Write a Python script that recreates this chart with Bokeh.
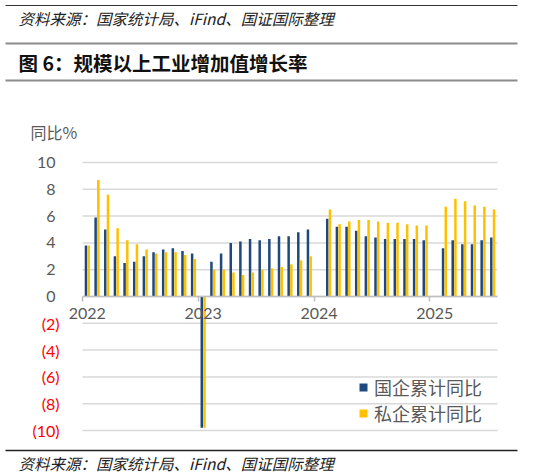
from bokeh.plotting import figure
from bokeh.models import (ColumnDataSource, Range1d, LinearAxis, FixedTicker,
                          Legend, LegendItem)
from bokeh.transform import dodge
from bokeh.core.properties import value
from bokeh.embed import file_html
from bokeh.resources import INLINE

# ---------------- data ----------------
months = [
    "2022-01", "2022-02", "2022-03", "2022-04", "2022-05", "2022-06",
    "2022-07", "2022-08", "2022-09", "2022-10", "2022-11", "2022-12",
    "2023-01", "2023-02", "2023-03", "2023-04", "2023-05", "2023-06",
    "2023-07", "2023-08", "2023-09", "2023-10", "2023-11", "2023-12",
    "2024-02", "2024-03", "2024-04", "2024-05", "2024-06",
    "2024-07", "2024-08", "2024-09", "2024-10", "2024-11", "2024-12",
    "2025-02", "2025-03", "2025-04", "2025-05", "2025-06", "2025-07",
]
soe_yoy = [  # 国企累计同比
    3.8, 5.9, 5.0, 3.0, 2.5, 2.6, 3.0, 3.3, 3.5, 3.6, 3.4, 3.2,
    -9.8, 2.6, 3.2, 4.0, 4.1, 4.3, 4.2, 4.3, 4.5, 4.5, 4.8, 5.0,
    5.8, 5.2, 5.2, 4.9, 4.5, 4.4, 4.3, 4.3, 4.3, 4.3, 4.2,
    3.6, 4.2, 3.9, 3.9, 4.2, 4.4,
]
poe_yoy = [  # 私企累计同比
    3.8, 8.7, 7.6, 5.1, 4.2, 3.9, 3.5, 3.2, 3.3, 3.3, 3.1, 2.8,
    -9.8, 2.0, 2.0, 1.8, 1.6, 1.8, 2.0, 2.1, 2.2, 2.4, 2.7, 3.0,
    6.5, 5.4, 5.6, 5.7, 5.7, 5.6, 5.5, 5.5, 5.4, 5.3, 5.3,
    6.7, 7.3, 7.1, 6.8, 6.7, 6.5,
]
year_labels = ["2022", "2023", "2024", "2025"]
y_ticks = [-10, -8, -6, -4, -2, 0, 2, 4, 6, 8, 10]
series_names = ["国企累计同比", "私企累计同比"]

header_source = "资料来源：国家统计局、iFind、国证国际整理"
title_text = "图 6：规模以上工业增加值增长率"
y_unit_text = "同比%"

# ---------------- style / layout ----------------
BLUE = "#1F497D"
GOLD = "#FFC000"
GRAY_TXT = "#595959"
GRID = "#D9D9D9"
CJK_NAME = "Noto Sans CJK SC"
CJK = value(CJK_NAME)
NUM = "Lato"

W, H = 533, 474                  # canvas size (page has no body margin)
FRAME_L, FRAME_R = 82, 497       # px of the plotting area
Y0_PX, Y10_PX = 296, 162         # px of value 0 and value 10

base_year = int(year_labels[0])
idx = [(int(m[:4]) - base_year) * 12 + int(m[5:]) - 1 for m in months]
year_pos = [(int(y) - base_year) * 12 for y in year_labels]
n_cat = max(idx) + 1
ppm = (FRAME_R - FRAME_L) / n_cat
ppu = (Y0_PX - Y10_PX) / 10.0
x_lo, x_hi = -0.5, n_cat - 0.5
x_start = x_lo - FRAME_L / ppm
x_end = x_hi + (W - FRAME_R) / ppm
y_end = Y0_PX / ppu
y_start = -(H - Y0_PX) / ppu

p = figure(width=W, height=H, x_range=Range1d(x_start, x_end),
           y_range=Range1d(y_start, y_end),
           toolbar_location=None, output_backend="svg", min_border=0,
           x_axis_location=None, y_axis_location=None, outline_line_color=None)
p.xgrid.visible = False
p.ygrid.visible = False
p.extra_x_ranges = {"px": Range1d(0, W)}
p.extra_y_ranges = {"py": Range1d(H, 0)}
PX = dict(x_range_name="px", y_range_name="py")

# gridlines (horizontal, limited to the plotting area)
p.segment(x0=[x_lo] * len(y_ticks), x1=[x_hi] * len(y_ticks), y0=y_ticks, y1=y_ticks,
          line_color=GRID, line_width=1.5)

# bars
src = ColumnDataSource(dict(x=idx, soe=soe_yoy, poe=poe_yoy))
r_soe = p.vbar(x=dodge("x", -0.14, range=p.x_range), top="soe", width=0.26,
               source=src, fill_color=BLUE, line_color=None)
r_poe = p.vbar(x=dodge("x", 0.14, range=p.x_range), top="poe", width=0.26,
               source=src, fill_color=GOLD, line_color=None)

# y axes (positive grey, negative red in brackets)
pos_ticks = [t for t in y_ticks if t >= 0]
neg_ticks = [t for t in y_ticks if t < 0]
ax_pos = LinearAxis(ticker=FixedTicker(ticks=pos_ticks), fixed_location=x_lo,
                    major_label_overrides={t: str(t) for t in pos_ticks},
                    axis_line_color=None, major_tick_line_color=None, minor_tick_line_color=None,
                    major_label_standoff=21, major_label_text_font=NUM,
                    major_label_text_font_size="16px", major_label_text_color=GRAY_TXT)
ax_neg = LinearAxis(ticker=FixedTicker(ticks=neg_ticks), fixed_location=x_lo,
                    major_label_overrides={t: "(%d)" % abs(t) for t in neg_ticks},
                    axis_line_color=None, major_tick_line_color=None, minor_tick_line_color=None,
                    major_label_standoff=17, major_label_text_font=NUM,
                    major_label_text_font_size="16px", major_label_text_color="#FF0000")
p.add_layout(ax_pos, "left")
p.add_layout(ax_neg, "left")

# x axis at zero: boundary ticks + year labels
bound_ticks = [v - 0.5 for v in year_pos]
ax_x = LinearAxis(ticker=FixedTicker(ticks=bound_ticks), fixed_location=0,
                  bounds=(x_lo, x_hi),
                  major_label_overrides={t: "" for t in bound_ticks},
                  axis_line_color="#BFBFBF", axis_line_width=1.5,
                  major_tick_line_color="#BFBFBF", major_tick_line_width=1.5,
                  major_tick_in=0, major_tick_out=5, minor_tick_line_color=None)
ax_xl = LinearAxis(ticker=FixedTicker(ticks=year_pos), fixed_location=0,
                   major_label_overrides=dict(zip(year_pos, year_labels)),
                   axis_line_color=None, major_tick_line_color=None, minor_tick_line_color=None,
                   major_tick_in=0, major_tick_out=5, major_label_standoff=6,
                   major_label_text_font=NUM, major_label_text_font_size="16px",
                   major_label_text_color=GRAY_TXT)
p.add_layout(ax_x, "below")
p.add_layout(ax_xl, "below")

# legend
legend = Legend(items=[LegendItem(label=series_names[0], renderers=[r_soe]),
                       LegendItem(label=series_names[1], renderers=[r_poe])],
                location=(358, H - 426), orientation="vertical",
                glyph_width=10, glyph_height=10, label_standoff=6, label_height=20,
                spacing=0, padding=0, margin=0, border_line_color=None,
                background_fill_alpha=0, label_text_font=CJK_NAME,
                label_text_font_size="18px", label_text_color=GRAY_TXT)
p.add_layout(legend, "center")

# header / footer decorations (pixel coordinates of the canvas)
p.segment(x0=[5], x1=[517], y0=[5], y1=[5], line_color="#333333", line_width=1.2, **PX)
p.segment(x0=[5, 5], x1=[517, 517], y0=[43, 80], y1=[43, 80],
          line_color="#8C8C8C", line_width=2, **PX)
p.segment(x0=[5], x1=[517], y0=[450], y1=[450], line_color="#222222", line_width=1.3, **PX)
p.text(x=[18], y=[17], text=[header_source], text_font=CJK, text_font_style="italic",
       text_font_size="15.5px", text_color="#222222", text_baseline="middle",
       text_align="left", **PX)
p.text(x=[18], y=[62], text=[title_text], text_font=CJK, text_font_style="bold",
       text_font_size="19.5px", text_color="#111111", text_baseline="middle",
       text_align="left", **PX)
p.text(x=[30], y=[131], text=[y_unit_text], text_font=CJK,
       text_font_size="16px", text_color=GRAY_TXT, text_baseline="middle",
       text_align="left", **PX)
p.text(x=[18], y=[462], text=[header_source], text_font=CJK,
       text_font_style="italic", text_font_size="15.5px", text_color="#222222",
       text_baseline="middle", text_align="left", **PX)

open("out.html", "w").write(file_html(p, INLINE))
